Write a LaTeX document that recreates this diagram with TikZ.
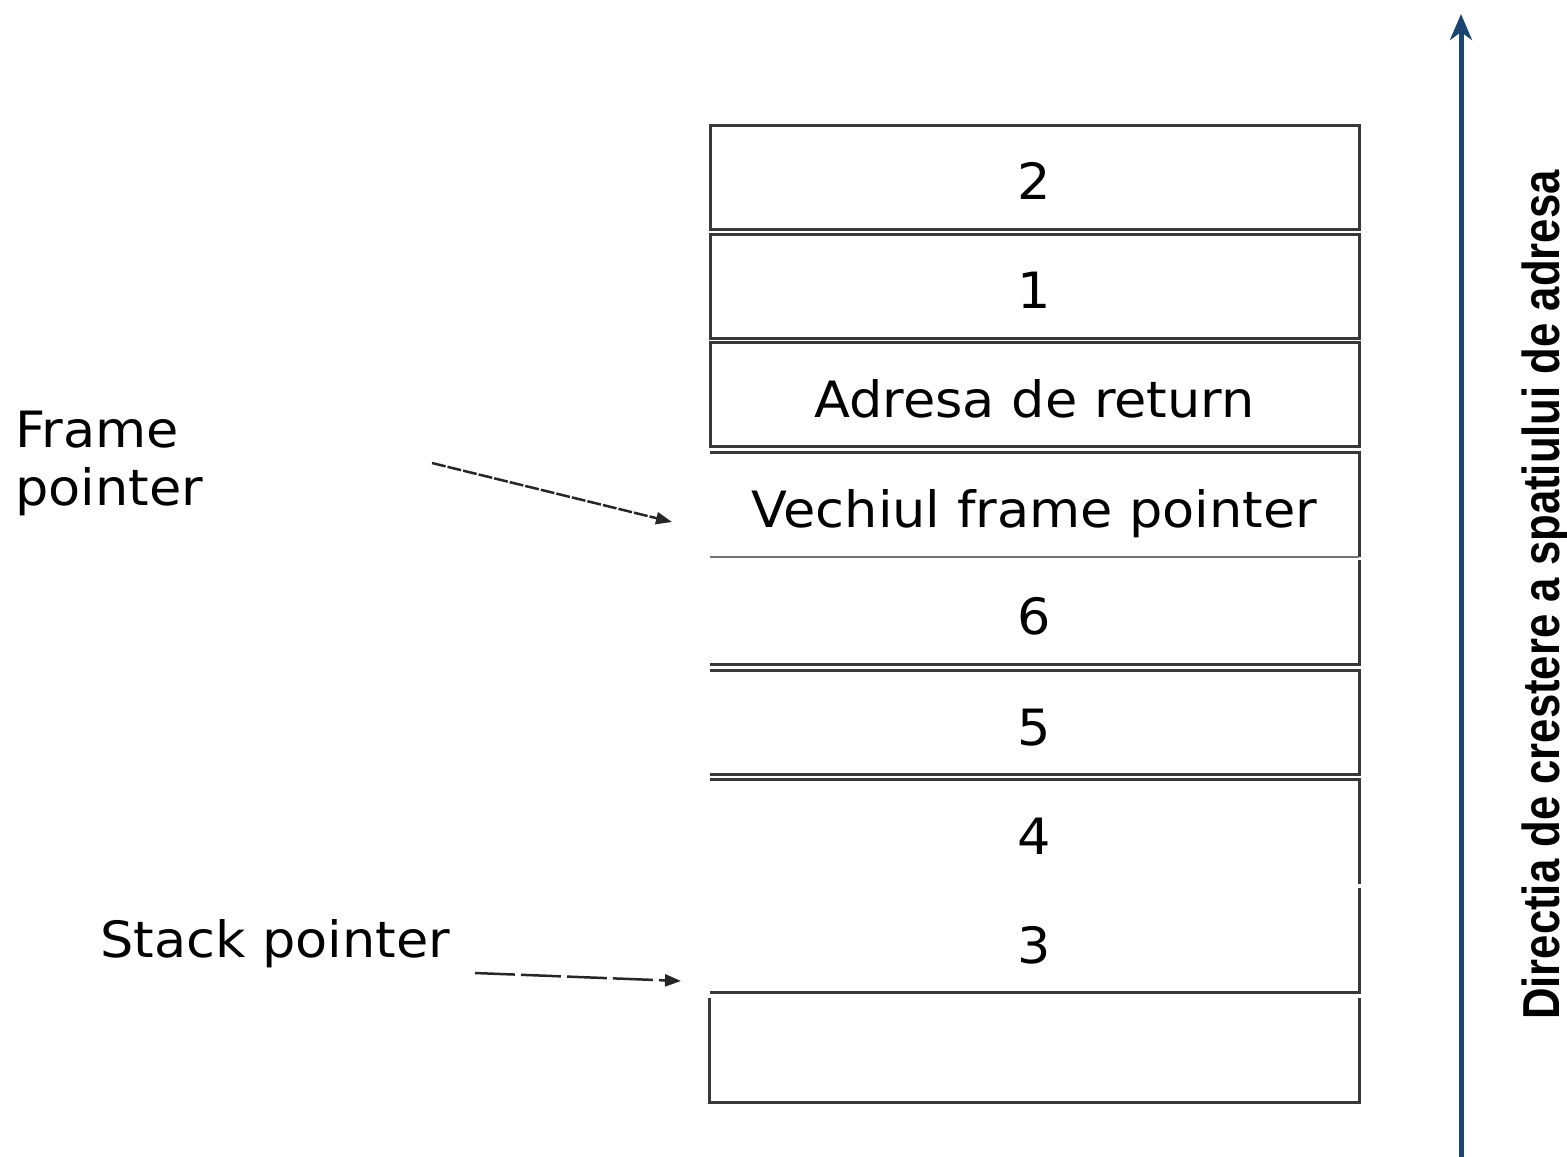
\documentclass[tikz,border=0pt]{standalone}
\usepackage{fontspec}
\setmainfont{DejaVu Sans}[FakeStretch=1.05]
\newfontfamily\vertfont{Liberation Sans}
\usetikzlibrary{arrows.meta}
\definecolor{boxline}{HTML}{383838}
\definecolor{axisblue}{HTML}{1B4470}
\begin{document}
\begin{tikzpicture}[x=1pt,y=-1pt,
  cell/.style={minimum width=649pt, minimum height=104pt, inner sep=0pt,
    text height=45pt, text depth=0pt, font=\fontsize{50}{60}\selectfont},
  full/.style={cell, draw=boxline, line width=3pt},
  edge/.style={draw=boxline, line width=3pt},
  ptr/.style={line width=2.5pt, draw=black!85, -{Triangle[length=16pt,width=12pt]}},
  lbl/.style={font=\fontsize{50}{58}\selectfont, inner sep=0pt}]
\useasboundingbox (0,0) rectangle (1567,1157);
% stack cells
\node[full] (c2) at (1034.5,177) {2};
\node[full] (c1) at (1034.5,286) {1};
\node[full] (cA) at (1034.5,394.5) {Adresa de return};
\node[cell] (cV) at (1034.5,505) {Vechiul frame pointer};
\node[cell] (c6) at (1034.5,612) {6};
\node[cell] (c5) at (1034.5,722.5) {5};
\node[cell] (c4) at (1034.5,831.5) {4};
\node[cell] (c3) at (1034.5,940.5) {3};
\node[cell] (cE) at (1034.5,1050.5) {};
% partial borders
\draw[edge] (cV.north west) -- (cV.north east) -- (cV.south east);
\draw[draw=black!55, line width=1.8pt] (cV.south west) -- (cV.south east);
\draw[edge] (c6.north east) -- (c6.south east) -- (c6.south west);
\draw[edge] (c5.north west) -- (c5.north east) -- (c5.south east) -- (c5.south west);
\draw[edge] (c4.south east) -- (c4.north east) -- (c4.north west);
\draw[edge] (c3.north east) -- (c3.south east) -- (c3.south west);
\draw[edge] (cE.north west) -- (cE.south west) -- (cE.south east) -- (cE.north east);
% labels
\node[lbl, anchor=base west, align=left] (fp) at (15,505) {Frame\\pointer};
\node[lbl, anchor=base west] (sp) at (100,957) {Stack pointer};
% pointer arrows
\coordinate (fpa) at (432,463);
\coordinate (fpb) at (672,522);
\draw[ptr, dash pattern=on 14pt off 2pt] (fpa) -- (fpb);
\coordinate (spa) at (475,973);
\coordinate (spb) at (681,981);
\draw[ptr, dash pattern=on 40pt off 6pt] (spa) -- (spb);
% address axis
\coordinate (ax0) at (1461,1157);
\coordinate (ax1) at (1461,14);
\draw[draw=axisblue, line width=5pt, -{Stealth[length=26pt,width=22pt,inset=8pt]}] (ax0) -- (ax1);
\node[rotate=90, anchor=base, inner sep=0pt, font=\vertfont\bfseries\fontsize{52}{60}\selectfont] (dir) at (1559,595)
  {\scalebox{0.84}[1]{Directia de crestere a spatiului de adresa}};
\end{tikzpicture}
\end{document}
